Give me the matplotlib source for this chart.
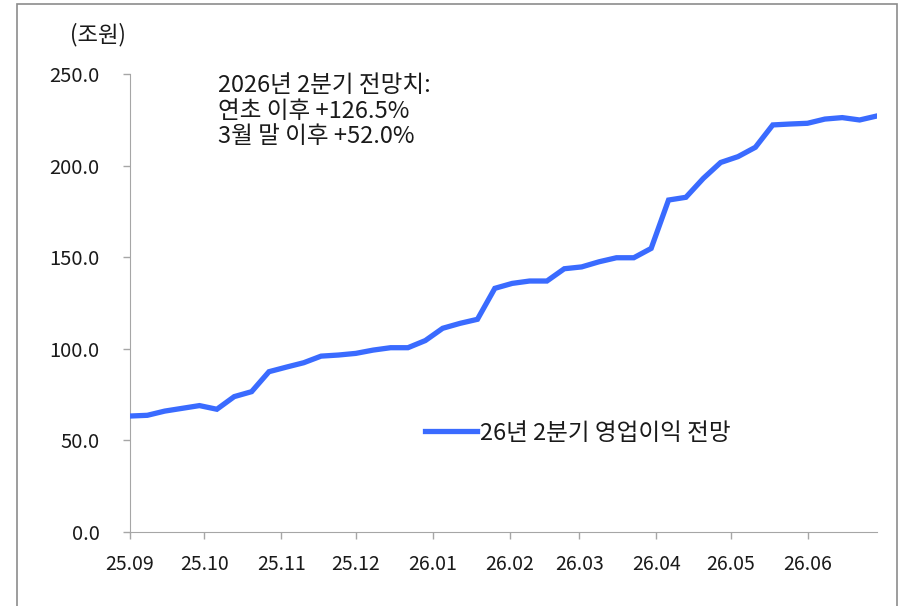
import pandas as pd, numpy as np, matplotlib
matplotlib.use('Agg')
import matplotlib.pyplot as plt
import matplotlib.dates as mdates
from matplotlib.patches import Rectangle

plt.rcParams['font.family'] = ['Noto Sans CJK KR', 'DejaVu Sans']

# weekly 2Q26 operating profit consensus (조원)
start_date = '2025-09-01'
values = [63.3, 63.7, 66.0, 67.5, 69.0, 67.0, 73.9, 76.6, 87.5, 90.0,
          92.4, 96.0, 96.6, 97.5, 99.3, 100.6, 100.6, 104.5, 111.2, 113.9,
          116.1, 133.0, 135.7, 137.0, 137.0, 143.7, 144.7, 147.5, 149.7, 149.7,
          154.8, 181.2, 182.7, 193.0, 201.7, 204.9, 210.0, 222.2, 222.7, 223.1,
          225.4, 226.2, 224.9, 227.1]
dates = pd.date_range(start_date, periods=len(values), freq='7D')
series_label = '26년 2분기 영업이익 전망'
note = '2026년 2분기 전망치:\n연초 이후 +126.5%\n3월 말 이후 +52.0%'
yticks = [0, 50, 100, 150, 200, 250]

LINE = '#3A6BFF'
GRAY = '#A6A6A6'
TXT = '#1A1A1A'

fig = plt.figure(figsize=(8.99, 6.06), dpi=100)
fig.patch.set_facecolor('white')
fig.patches.append(Rectangle((17 / 899, -0.05), (897 - 17) / 899, 1.05 - 4 / 606,
                             transform=fig.transFigure, fill=False,
                             edgecolor='#8C8C8C', linewidth=1.2))

ax = fig.add_axes([130 / 899, 1 - 532 / 606, (877 - 130) / 899, (532 - 74) / 606])
ax.plot(dates, values, color=LINE, linewidth=3.8, solid_joinstyle='miter',
        label=series_label, zorder=3)

ax.set_ylim(0, 250)
ax.set_yticks(yticks)
ax.set_yticklabels([f'{v:.1f}' for v in yticks], fontsize=14.5, color=TXT)
ax.set_xlim(pd.Timestamp('2025-09-01'), dates[-1])
ax.xaxis.set_major_locator(mdates.MonthLocator())
ax.xaxis.set_major_formatter(mdates.DateFormatter('%y.%m'))
for lab in ax.get_xticklabels():
    lab.set_fontsize(14)
    lab.set_color(TXT)

ax.spines[['top', 'right']].set_visible(False)
ax.spines[['left', 'bottom']].set_color(GRAY)
ax.tick_params(axis='both', colors=GRAY, labelcolor=TXT, length=5, width=1)
ax.tick_params(axis='y', pad=17)
ax.tick_params(axis='x', pad=11)

fig.text(70 / 899, 1 - 35 / 606, '(조원)', fontsize=16, color=TXT, va='center')
fig.text(218 / 899, 1 - 74 / 606, note, fontsize=17, color=TXT, va='top',
         linespacing=1.15)

fig.legend(loc='center left', bbox_to_anchor=(425 / 899, 1 - 433 / 606),
           bbox_transform=fig.transFigure, frameon=False, borderpad=0,
           borderaxespad=0, fontsize=17, handlelength=2.2, handletextpad=0.15,
           labelcolor=TXT)

plt.savefig('out.png', dpi=100, facecolor='white')
plt.close()
